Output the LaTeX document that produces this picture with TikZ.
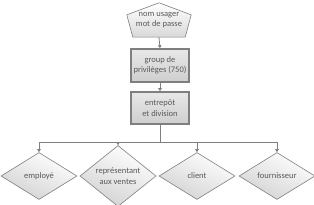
\documentclass[tikz,border=0pt]{standalone}
\usepackage{fontspec}
\setmainfont{Carlito}
\usepackage{xcolor}
\usetikzlibrary{shapes.geometric,arrows.meta,calc,backgrounds}
\definecolor{linegray}{HTML}{7F7F7F}
\definecolor{textgray}{HTML}{595959}

\begin{document}
\begin{tikzpicture}[x=1pt,y=1pt,
    font=\fontsize{8.5}{10.5}\selectfont, text=textgray,
    arr/.style={draw=linegray, line width=0.8pt, -{Triangle[length=3pt,width=3.5pt]}},
    flowbox/.style={rectangle, draw=linegray, line width=1.6pt, top color=gray!18, bottom color=gray!38,
        minimum width=58pt, minimum height=32pt, inner sep=1pt, align=center},
    choice/.style={diamond, draw=linegray, line width=0.6pt, top color=white, bottom color=gray!35,
        shading angle=-25, minimum width=76pt, minimum height=47pt, inner sep=0pt, align=center}]
    \useasboundingbox (0,0) rectangle (314,205);

    % login and the two boxes
    \node[minimum width=64pt, minimum height=34pt, inner sep=0pt, align=center] (login) at (159,185) {nom usager\\mot de passe};
    \begin{scope}[on background layer]
        \draw[draw=linegray, line width=0.6pt, top color=white, bottom color=gray!30]
            (login.north) -- ($(login.north east)!0.35!(login.south east)$)
            -- ($(login.south east)+(-6,0)$) -- ($(login.south west)+(6,0)$)
            -- ($(login.north west)!0.35!(login.south west)$) -- cycle;
    \end{scope}
    \node[flowbox, minimum height=33pt] (group) at (160,139.5) {group de\\privilèges (750)};
    \node[flowbox] (entrepot) at (160,97) {entrepôt\\et division};

    % the four choices
    \node[choice] (employe) at (39,29) {employé};
    \node[choice] (representant) at (118,29) {représentant\\aux ventes};
    \node[choice] (client) at (197,29) {client};
    \node[choice] (fournisseur) at (277,29) {fournisseur};

    \draw[arr] (login.south) -- (group.north);
    \draw[arr] (group.south) -- (entrepot.north);
    \coordinate (split) at (entrepot.south |- 0,63);
    \draw[draw=linegray, line width=0.8pt] (entrepot.south) -- (split);
    \foreach \d in {employe,representant,client,fournisseur}
        \draw[arr] (split) -| (\d.north);
\end{tikzpicture}
\end{document}
